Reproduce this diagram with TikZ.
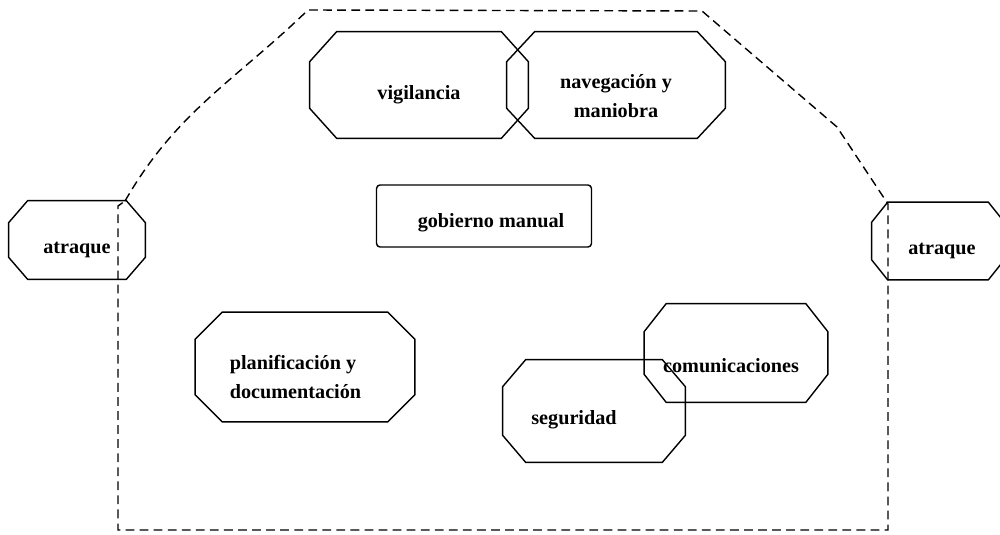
\documentclass[tikz,border=0pt]{standalone}
\usepackage{fontspec}
\setmainfont{Liberation Serif}

\newcommand\vlift[1]{\rule{0pt}{#1}}
% octagon round a node: name, chamfer x, chamfer y
\newcommand\octo[3]{%
  \draw[line width=0.8pt] ([xshift=#2]#1.north west) -- ([xshift=-#2]#1.north east)
    -- ([yshift=-#3]#1.north east) -- ([yshift=#3]#1.south east)
    -- ([xshift=-#2]#1.south east) -- ([xshift=#2]#1.south west)
    -- ([yshift=#3]#1.south west) -- ([yshift=-#3]#1.north west) -- cycle;}

\tikzset{
  task/.style={rectangle, inner sep=0pt, align=center,
    font=\fontsize{11.5}{16.5}\selectfont\bfseries},
  frontier/.style={line width=0.8pt, dash pattern=on 5pt off 3pt}
}

\begin{document}
\begin{tikzpicture}[x=0.02cm, y=-0.02cm]
\useasboundingbox (0,0) rectangle (1000,534);
% zona de puente
\draw[frontier] (125,201) to[out=60,in=-136] (308,10) -- (702,11) -- (837,127)
  -- (888,204) -- (888,530) -- (118,530) -- (118,206) -- cycle;
\node[task, minimum width=4.36cm, minimum height=2.12cm] (vig) at (419,85) {\vlift{0.68cm}vigilancia};
\node[task, minimum width=4.36cm, minimum height=2.12cm] (nav) at (616,85) {\vlift{0.72cm}navegación y\\maniobra};
\node[task, draw, line width=0.8pt, rounded corners=2pt, minimum width=4.3cm, minimum height=1.24cm] (gob) at (484,216)
  {\hspace*{0.28cm}\vlift{0.56cm}gobierno manual};
\node[task, minimum width=2.72cm, minimum height=1.56cm] (atrL) at (77,240) {\vlift{0.64cm}atraque};
\node[task, minimum width=2.64cm, minimum height=1.54cm] (atrR) at (938,241) {\hspace*{0.16cm}\vlift{0.64cm}atraque};
\node[task, align=left, minimum width=4.38cm, minimum height=2.18cm] (plan) at (305,367)
  {\vlift{0.68cm}planificación y\hspace*{0.48cm}\\documentación};
\node[task, minimum width=3.66cm, minimum height=1.96cm] (com) at (736,353)
  {\vlift{0.8cm}comunicaciones\hspace*{0.2cm}};
\node[task, minimum width=3.64cm, minimum height=2.04cm] (seg) at (594,411)
  {\vlift{0.64cm}seguridad\hspace*{0.8cm}};
\octo{vig}{0.54cm}{0.6cm}
\octo{nav}{0.56cm}{0.6cm}
\octo{atrL}{0.38cm}{0.44cm}
\octo{atrR}{0.32cm}{0.4cm}
\octo{plan}{0.54cm}{0.54cm}
\octo{com}{0.44cm}{0.56cm}
\octo{seg}{0.46cm}{0.54cm}
\end{tikzpicture}
\end{document}
